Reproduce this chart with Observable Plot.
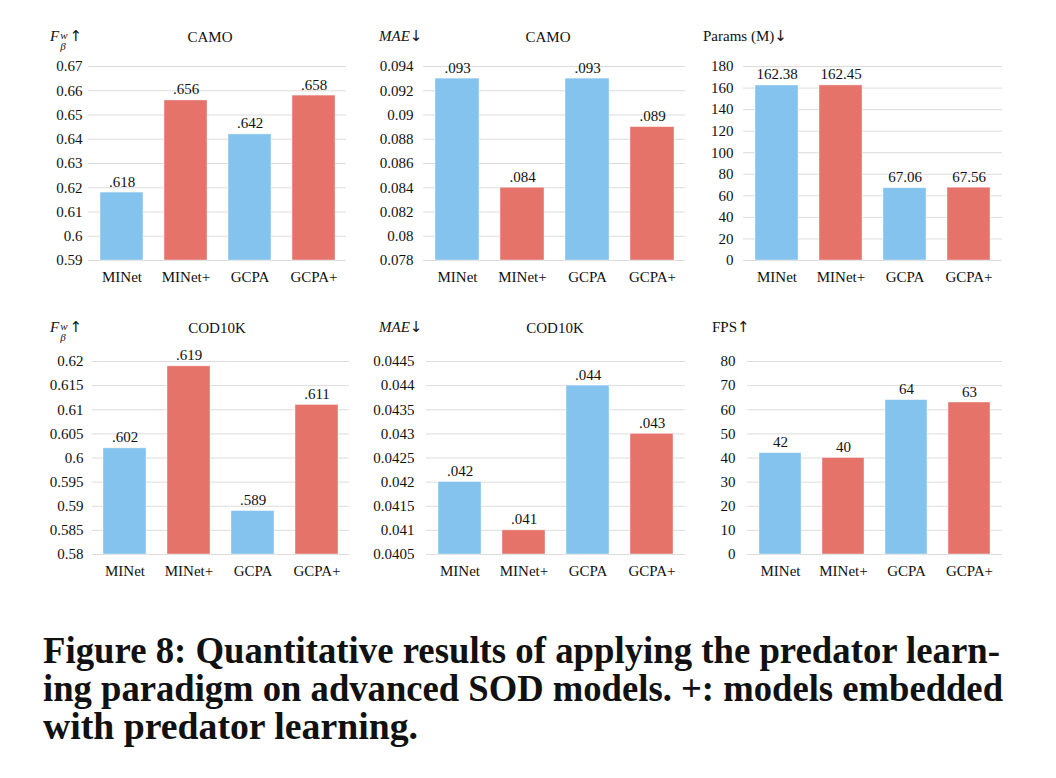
<!DOCTYPE html>
<html>
<head>
<meta charset="utf-8">
<script src="https://cdn.jsdelivr.net/npm/d3@7"></script>
<script src="https://cdn.jsdelivr.net/npm/@observablehq/plot@0.6"></script>
<style>
  html, body { margin: 0; padding: 0; background: #fff; }
  #root { position: relative; width: 1056px; height: 778px; overflow: hidden; font-family: "Liberation Serif", "Times New Roman", serif; color: #111; }
  .panel { position: absolute; }
  .lbl { position: absolute; font-size: 15px; white-space: nowrap; line-height: 1; }
  .ctr { transform: translateX(-50%); }
  .ss { display: inline-block; vertical-align: -9px; font-size: 11px; line-height: 11px; margin-left: 1px; margin-right: 2px; }
  .ss i { display: block; height: 11px; }
  .arr { font-family: "DejaVu Sans", sans-serif; font-size: 15px; }
</style>
</head>
<body>
<div id="root"></div>
<script>
// ---- data ----
const models = ["MINet", "MINet+", "GCPA", "GCPA+"];
const kinds = ["base", "plus", "base", "plus"];

const camoF = [0.618, 0.656, 0.642, 0.658];
const camoMAE = [0.093, 0.084, 0.093, 0.089];
const paramsM = [162.38, 162.45, 67.06, 67.56];
const codF = [0.602, 0.619, 0.589, 0.611];
const codMAE = [0.042, 0.041, 0.044, 0.043];
const fps = [42, 40, 64, 63];

const camoFTicks = [0.59, 0.6, 0.61, 0.62, 0.63, 0.64, 0.65, 0.66, 0.67];
const camoMAETicks = [0.078, 0.08, 0.082, 0.084, 0.086, 0.088, 0.09, 0.092, 0.094];
const paramsTicks = [0, 20, 40, 60, 80, 100, 120, 140, 160, 180];
const codFTicks = [0.58, 0.585, 0.59, 0.595, 0.6, 0.605, 0.61, 0.615, 0.62];
const codMAETicks = [0.0405, 0.041, 0.0415, 0.042, 0.0425, 0.043, 0.0435, 0.044, 0.0445];
const fpsTicks = [0, 10, 20, 30, 40, 50, 60, 70, 80];

const colors = { base: "#83C3EE", plus: "#E5736A" };

const root = document.getElementById("root");

const noLead = v => d3.format(".3f")(v).replace(/^0\./, ".");
const tickFmt = v => String(+v.toFixed(5));

const panels = [
  { vals: camoF, ticks: camoFTicks, fmt: noLead, left: 20, top: 50, ml: 68, mr: 14, mb: 30, tp: 6 },
  { vals: camoMAE, ticks: camoMAETicks, fmt: noLead, left: 355, top: 50, ml: 68, mr: 10, mb: 30, tp: 10 },
  { vals: paramsM, ticks: paramsTicks, fmt: d3.format(".2f"), left: 690, top: 50, ml: 53, mr: 28, mb: 30, tp: 10 },
  { vals: codF, ticks: codFTicks, fmt: noLead, left: 20, top: 345, ml: 72, mr: 11, mb: 31, tp: 9 },
  { vals: codMAE, ticks: codMAETicks, fmt: noLead, left: 355, top: 345, ml: 71, mr: 10, mb: 31, tp: 12 },
  { vals: fps, ticks: fpsTicks, fmt: d3.format("d"), left: 690, top: 345, ml: 57, mr: 28, mb: 31, tp: 12 }
];

for (const p of panels) {
  const data = models.map((m, i) => ({ model: m, kind: kinds[i], value: p.vals[i] }));
  const lo = p.ticks[0], hi = p.ticks[p.ticks.length - 1];
  const chart = Plot.plot({
    width: 340,
    height: 240,
    marginLeft: p.ml,
    marginRight: p.mr,
    marginTop: 16,
    marginBottom: p.mb,
    style: { fontFamily: "Liberation Serif, Times New Roman, serif", fontSize: "15px", color: "#111", background: "transparent" },
    x: { domain: models, paddingInner: 0.33, paddingOuter: 0.165, label: null },
    y: { domain: [lo, hi], label: null },
    color: { domain: ["base", "plus"], range: [colors.base, colors.plus] },
    marks: [
      Plot.gridY(p.ticks, { stroke: "#dcdcdc", strokeOpacity: 1, strokeWidth: 1 }),
      Plot.barY(data, { x: "model", y1: () => lo, y2: "value", fill: "kind", stroke: "#fff", strokeOpacity: 0.5, strokeWidth: 0.8 }),
      Plot.text(data, { x: "model", y: "value", text: d => p.fmt(d.value), lineAnchor: "bottom", dy: -6, fontSize: 15, fill: "#111" }),
      Plot.axisY(p.ticks, { tickSize: 0, tickPadding: p.tp, tickFormat: tickFmt, label: null, fontSize: 15 }),
      Plot.axisX({ tickSize: 0, tickPadding: 11, label: null, fontSize: 15 })
    ]
  });
  const wrap = document.createElement("div");
  wrap.className = "panel";
  wrap.style.left = p.left + "px";
  wrap.style.top = p.top + "px";
  wrap.appendChild(chart);
  root.appendChild(wrap);
}

// ---- titles and axis labels ----
const up = '<span class="arr">↑</span>', down = '<span class="arr">↓</span>';
const fLabel = '<i>F</i><span class="ss"><i>w</i><i>β</i></span>' + up;
const labels = [
  { html: fLabel, x: 50, y: 29 },
  { html: 'CAMO', x: 210, y: 30, center: true },
  { html: '<i>MAE</i>' + down, x: 379, y: 29 },
  { html: 'CAMO', x: 548, y: 30, center: true },
  { html: 'Params (M)' + down, x: 703, y: 29 },
  { html: fLabel, x: 50, y: 320 },
  { html: 'COD10K', x: 217, y: 321, center: true },
  { html: '<i>MAE</i>' + down, x: 379, y: 320 },
  { html: 'COD10K', x: 555, y: 321, center: true },
  { html: 'FPS' + up, x: 712, y: 320 }
];
for (const l of labels) {
  const d = document.createElement("div");
  d.className = "lbl" + (l.center ? " ctr" : "");
  d.style.left = l.x + "px";
  d.style.top = l.y + "px";
  d.innerHTML = l.html;
  root.appendChild(d);
}

// ---- caption ----
const captionLines = [
  "Figure 8: Quantitative results of applying the predator learn-",
  "ing paradigm on advanced SOD models. +: models embedded",
  "with predator learning."
];
const captionWidths = [957, 960, 375];
const ns = "http://www.w3.org/2000/svg";
const cap = document.createElementNS(ns, "svg");
cap.setAttribute("width", 1056);
cap.setAttribute("height", 150);
cap.style.position = "absolute";
cap.style.left = "0px";
cap.style.top = "620px";
captionLines.forEach((t, i) => {
  const tx = document.createElementNS(ns, "text");
  tx.setAttribute("x", 43);
  tx.setAttribute("y", 43 + i * 38);
  tx.setAttribute("textLength", captionWidths[i]);
  tx.setAttribute("lengthAdjust", "spacingAndGlyphs");
  tx.setAttribute("font-family", "Liberation Serif, Times New Roman, serif");
  tx.setAttribute("font-weight", "bold");
  tx.setAttribute("font-size", 37);
  tx.setAttribute("fill", "#111");
  tx.textContent = t;
  cap.appendChild(tx);
});
root.appendChild(cap);
</script>
</body>
</html>
